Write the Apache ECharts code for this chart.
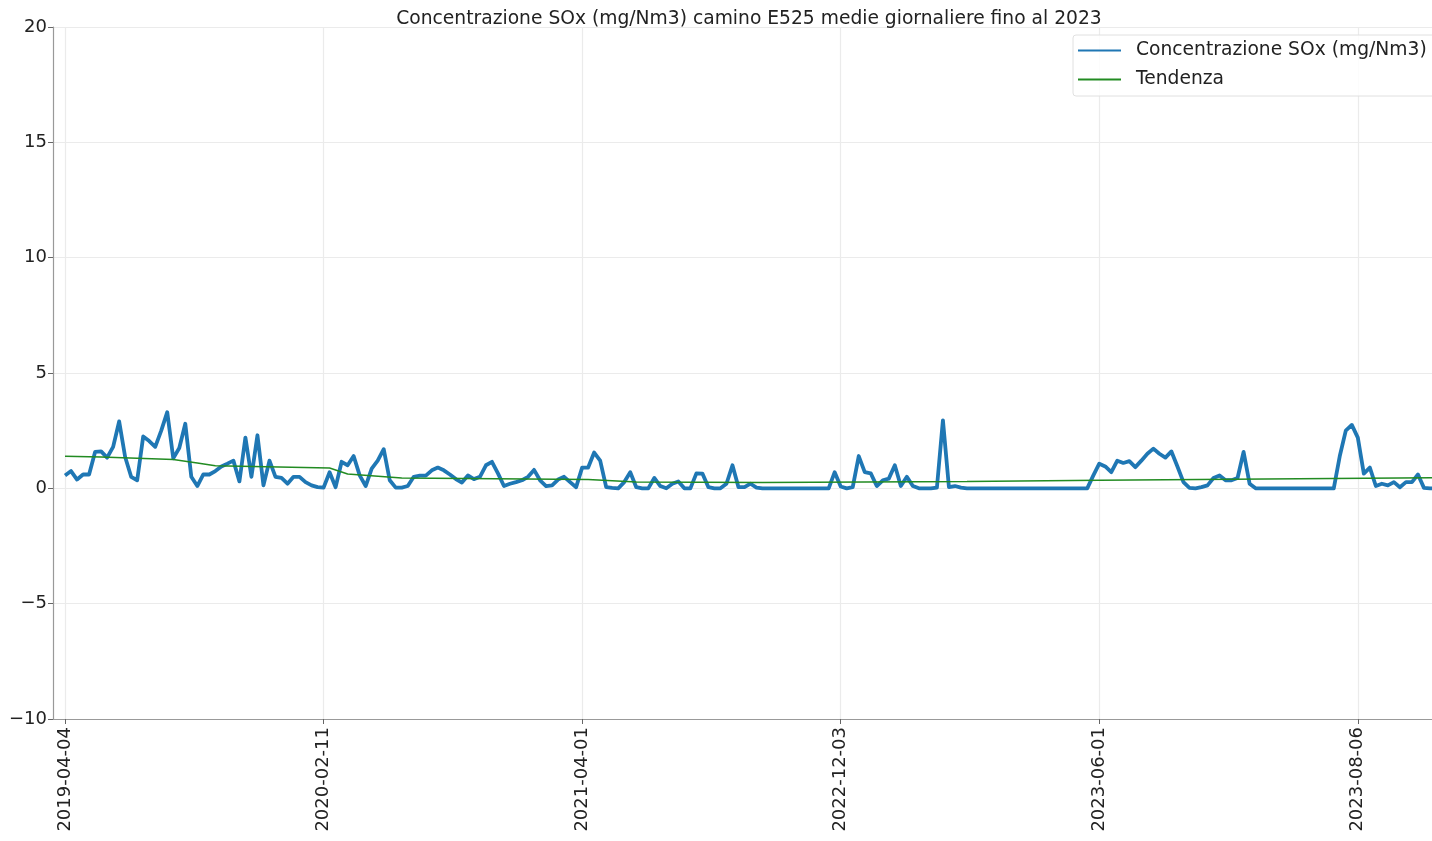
<!DOCTYPE html>
<html>
<head>
<meta charset="utf-8">
<script src="https://cdn.jsdelivr.net/npm/echarts@6/dist/echarts.min.js"></script>
<style>
  html, body { margin: 0; padding: 0; background: #fff; }
  #chart { width: 1432px; height: 841px; }
</style>
</head>
<body>
<div id="chart"></div>
<script>
// medie giornaliere SOx (mg/Nm3)
const sox = [
  0.56, 0.75, 0.38, 0.6, 0.6, 1.58, 1.6, 1.33, 1.8, 2.9,
  1.36, 0.5, 0.35, 2.25, 2.05, 1.8, 2.5, 3.3, 1.3, 1.75,
  2.8, 0.5, 0.1, 0.6, 0.6, 0.75, 0.95, 1.07, 1.2, 0.3,
  2.2, 0.5, 2.3, 0.13, 1.2, 0.5, 0.45, 0.2, 0.5, 0.5,
  0.27, 0.13, 0.05, 0.03, 0.7, 0.05, 1.15, 1.0, 1.4, 0.56,
  0.1, 0.85, 1.2, 1.7, 0.35, 0.03, 0.03, 0.1, 0.5, 0.55,
  0.55, 0.78, 0.9, 0.78, 0.6, 0.4, 0.25, 0.56, 0.4, 0.5,
  1.0, 1.15, 0.65, 0.1, 0.2, 0.27, 0.35, 0.5, 0.8, 0.35,
  0.1, 0.13, 0.38, 0.5, 0.27, 0.05, 0.9, 0.9, 1.55, 1.2,
  0.05, 0.02, 0, 0.27, 0.7, 0.05, 0, 0, 0.45, 0.1,
  0, 0.2, 0.3, 0, 0, 0.65, 0.64, 0.05, 0, 0,
  0.2, 1.0, 0.05, 0.05, 0.2, 0.03, 0, 0, 0, 0,
  0, 0, 0, 0, 0, 0, 0, 0, 0.7, 0.08,
  0, 0.05, 1.4, 0.7, 0.65, 0.1, 0.35, 0.42, 1.0, 0.1,
  0.5, 0.1, 0, 0, 0, 0.03, 2.95, 0.05, 0.1, 0.03,
  0, 0, 0, 0, 0, 0, 0, 0, 0, 0,
  0, 0, 0, 0, 0, 0, 0, 0, 0, 0,
  0, 0.55, 1.07, 0.95, 0.7, 1.2, 1.1, 1.18, 0.92, 1.2,
  1.5, 1.72, 1.5, 1.33, 1.6, 0.95, 0.27, 0.02, 0, 0.05,
  0.13, 0.45, 0.56, 0.35, 0.35, 0.45, 1.58, 0.2, 0, 0,
  0, 0, 0, 0, 0, 0, 0, 0, 0, 0,
  0, 0, 1.4, 2.5, 2.75, 2.2, 0.64, 0.9, 0.1, 0.2,
  0.13, 0.27, 0.05, 0.27, 0.27, 0.6, 0.02, 0, 0, 0
];

// linea di tendenza: punti chiave (indice del dato, valore)
const trendIdx = [0, 6, 18, 22, 25, 44, 47, 56, 87, 95, 116, 150, 172, 229];
const trendVal = [1.39, 1.36, 1.25, 1.1, 0.98, 0.88, 0.62, 0.45, 0.38, 0.27, 0.25, 0.3, 0.35, 0.46];

// etichette dell'asse x, una ogni tickStep dati
const tickLabels = ['2019-04-04', '2020-02-11', '2021-04-01', '2022-12-03', '2023-06-01', '2023-08-06'];
const tickStep = 43;
const PAD = 2; // margine a sinistra, in categorie

const cats = [];
for (let k = 0; k < sox.length + PAD; k++) cats.push(String(k - PAD));
const isTick = (v) => {
    const i = Number(v);
    return i >= 0 && i % tickStep === 0 && i / tickStep < tickLabels.length;
};

const font = 'DejaVu Sans';
const chart = echarts.init(document.getElementById('chart'));

chart.setOption({
    animation: false,
    title: {
        text: 'Concentrazione SOx (mg/Nm3) camino E525 medie giornaliere fino al 2023',
        left: 744,
        top: 5,
        textAlign: 'center',
        textStyle: { fontFamily: font, fontSize: 18.7, fontWeight: 'normal', color: '#222' }
    },
    legend: {
        orient: 'vertical',
        left: 1073,
        top: 35,
        padding: [6, 40, 7, 4],
        itemWidth: 43,
        itemHeight: 18,
        itemGap: 10,
        backgroundColor: 'rgba(255,255,255,0.85)',
        borderColor: '#e0e0e0',
        borderWidth: 1,
        borderRadius: 3,
        itemStyle: { opacity: 0 },
        textStyle: { fontFamily: font, fontSize: 18.7, color: '#222', padding: [0, 0, 0, 10] },
        data: ['Concentrazione SOx (mg/Nm3)', 'Tendenza']
    },
    // la griglia esce un poco a destra: il grafico originale è tagliato
    grid: { left: 53, width: 1389, top: 27, bottom: 122, containLabel: false, outerBoundsMode: 'none' },
    xAxis: {
        type: 'category',
        boundaryGap: false,
        data: cats,
        axisLine: { onZero: false, lineStyle: { color: '#999', width: 1.2 } },
        axisTick: { interval: (i, v) => isTick(v), length: 5, lineStyle: { color: '#666' } },
        axisLabel: {
            interval: (i, v) => isTick(v),
            rotate: 90,
            margin: 8,
            fontFamily: font,
            fontSize: 18,
            color: '#222',
            formatter: (v) => tickLabels[Number(v) / tickStep]
        },
        splitLine: { show: true, interval: (i, v) => isTick(v), lineStyle: { color: '#ebebeb', width: 1.2 } }
    },
    yAxis: {
        type: 'value',
        min: -10,
        max: 20,
        interval: 5,
        axisLine: { show: true, lineStyle: { color: '#999', width: 1.2 } },
        axisTick: { show: true, length: 5, lineStyle: { color: '#666' } },
        axisLabel: {
            margin: 6,
            fontFamily: font,
            fontSize: 18,
            color: '#222',
            formatter: (v) => (v < 0 ? '\u2212' + Math.abs(v) : String(v))
        },
        splitLine: { lineStyle: { color: '#ebebeb', width: 1.2 } }
    },
    series: [
        {
            name: 'Concentrazione SOx (mg/Nm3)',
            type: 'line',
            data: [null, null].concat(sox),
            symbol: 'none',
            lineStyle: { color: '#1f77b4', width: 3.8, join: 'round' },
            itemStyle: { color: '#1f77b4' },
            z: 3
        },
        {
            name: 'Tendenza',
            type: 'line',
            data: trendIdx.map((i, k) => [i + PAD, trendVal[k]]),
            symbol: 'none',
            lineStyle: { color: '#228b22', width: 1.5 },
            itemStyle: { color: '#228b22' },
            z: 4
        }
    ]
});
</script>
</body>
</html>
